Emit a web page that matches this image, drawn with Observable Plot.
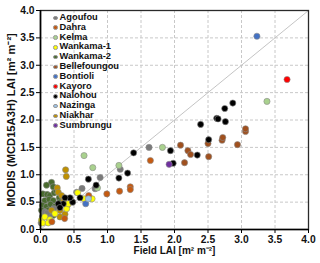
<!DOCTYPE html>
<html><head><meta charset="utf-8">
<script src="https://cdn.jsdelivr.net/npm/d3@7"></script>
<script src="https://cdn.jsdelivr.net/npm/@observablehq/plot@0.6"></script>
<style>
body{margin:0;background:#fff;font-family:Arial,"Liberation Sans",sans-serif;}
#wrap{position:relative;width:320px;height:263px;}
#legend{position:absolute;left:53px;top:13px;font-weight:bold;font-size:9.3px;color:#111;line-height:9.8px;}
#legend .row{display:flex;align-items:center;height:9.8px;white-space:nowrap;}
#legend .sw{width:4.6px;height:4.6px;border-radius:50%;margin-right:2px;box-sizing:border-box;border:0.5px solid #999;}
</style></head>
<body><div id="wrap"></div>
<script>
const sites = ["Agoufou","Dahra","Kelma","Wankama-1","Wankama-2","Bellefoungou","Bontioli","Kayoro","Nalohou","Nazinga","Niakhar","Sumbrungu"];
const colors = ["#7a7a7a","#c55a11","#a9d18e","#ffff00","#4a6b2e","#a0501e","#4472c4","#ff0000","#000000","#9dc3e6","#bf9000","#7030a0"];
const ticks = [0,0.5,1,1.5,2,2.5,3,3.5,4];
const oneToOne = [0,4];

const agoufou = [[0.89,0.95],[0.62,0.75],[1.62,1.50],[1.19,1.10],[0.54,0.68],[0.065,0.32],[0.14,0.23],[0.01,0.12],[0.815,0.745],[0.10,0.30],[0.20,0.38]];
const dahra = [[0.99,0.65],[1.18,0.70],[1.34,0.78],[1.34,0.73],[0.72,0.62],[0.17,0.14],[0.36,0.20],[1.64,1.26]];
const kelma = [[0.65,1.35],[0.78,1.13],[1.17,1.17],[0.85,0.76],[1.82,1.50],[3.38,2.34]];
const wankama1 = [[0.015,0.17],[0.065,0.23],[0.14,0.18],[0.215,0.29],[0.39,0.38],[0.415,0.47],[0.555,0.67],[0.65,0.56],[0.77,0.56],[0.03,0.12],[0.115,0.12]];
const wankama2 = [[0.165,0.86],[0.09,0.81],[0.19,0.78],[0.035,0.65],[0.10,0.64],[0.14,0.62],[0.205,0.67],[0.24,0.70],[0.065,0.53],[0.13,0.55],[0.19,0.53],[0.03,0.44],[0.09,0.42],[0.15,0.46],[0.215,0.42],[0.015,0.35],[0.05,0.28],[0.115,0.35],[0.18,0.36],[0.03,0.23],[0.10,0.26],[0.28,0.58],[0.29,0.50],[0.19,0.26]];
const bellefoungou = [[2.09,1.54],[2.20,1.44],[2.24,1.37],[2.15,1.22],[2.51,1.33],[2.50,1.57],[2.71,1.63],[2.72,1.68],[2.94,1.55],[3.06,1.79],[3.06,1.84]];
const bontioli = [[0.675,0.47],[3.23,3.53]];
const kayoro = [[3.68,2.74]];
const nalohou = [[1.39,1.40],[1.30,1.03],[1.17,0.94],[0.715,0.92],[0.83,0.81],[0.59,0.58],[0.48,0.50],[0.44,0.58],[0.34,0.47],[0.265,0.47],[0.365,0.58],[0.29,0.40],[1.94,1.44],[1.98,1.21],[2.34,1.36],[2.51,1.64],[2.39,1.92],[2.76,1.97],[2.63,2.03],[2.65,2.02],[2.75,2.21],[2.87,2.31]];
const nazinga = [[0.715,0.56]];
const niakhar = [[0.375,1.09],[0.385,0.97],[0.25,0.76],[0.265,0.68],[0.315,0.62],[0.35,0.53],[0.29,0.35],[0.365,0.28],[0.29,0.23],[0.45,0.56],[0.40,0.44],[0.165,0.35]];
const sumbrungu = [[1.92,1.19]];

const series = [agoufou,dahra,kelma,wankama1,wankama2,bellefoungou,bontioli,kayoro,nalohou,nazinga,niakhar,sumbrungu];
const drawOrder = [4,0,10,3,1,5,2,8,6,9,7,11];
const points = [];
for (const i of drawOrder) for (const [x,y] of series[i]) points.push({site:sites[i],x,y});

const chart = Plot.plot({
  width:320, height:263,
  marginLeft:40, marginRight:12, marginTop:10, marginBottom:34,
  x:{domain:[0,4]}, y:{domain:[0,4]},
  color:{domain:sites, range:colors},
  style:{fontFamily:"Arial, 'Liberation Sans', sans-serif", fontWeight:"bold", fontSize:"10.3px", color:"#111", background:"#fff"},
  marks:[
    Plot.gridX(ticks.slice(1,-1), {stroke:"#c8c8c8", strokeOpacity:1, strokeDasharray:"3,2"}),
    Plot.gridY(ticks.slice(1,-1), {stroke:"#c8c8c8", strokeOpacity:1, strokeDasharray:"3,2"}),
    Plot.line(oneToOne.map(v=>({x:v,y:v})), {x:"x", y:"y", stroke:"#bdbdbd", strokeWidth:0.9}),
    Plot.dot(points, {x:"x", y:"y", fill:"site", stroke:"#8a8a8a", strokeWidth:0.6, r:3.1}),
    Plot.frame({stroke:"#2a2a2a", strokeWidth:1.3}),
    Plot.ruleX([0], {stroke:"#000", strokeWidth:1.6}),
    Plot.ruleY([0], {stroke:"#000", strokeWidth:1.6}),
    Plot.axisX(ticks, {tickFormat:d3.format(".1f"), tickSize:4, tickPadding:2, label:null, stroke:"#000"}),
    Plot.axisY(ticks, {tickFormat:d3.format(".1f"), tickSize:4, tickPadding:2, label:null, stroke:"#000"}),
    Plot.text(["Field LAI [m\u00b2 m\u207b\u00b2]"], {text:d=>d, frameAnchor:"bottom", lineAnchor:"middle", textAnchor:"middle", dy:21, fontSize:10, fontWeight:"bold", fill:"#111"}),
    Plot.text(["MODIS (MCD15A3H) LAI [m\u00b2 m\u207b\u00b2]"], {text:d=>d, frameAnchor:"left", textAnchor:"middle", lineAnchor:"middle", dx:-29, rotate:-90, fontSize:11.2, fontWeight:"bold", fill:"#111"})
  ]
});
const wrap = document.getElementById("wrap");
wrap.appendChild(chart);
const leg = document.createElement("div");
leg.id = "legend";
sites.forEach((s,i)=>{
  const row = document.createElement("div"); row.className="row";
  const sw = document.createElement("span"); sw.className="sw"; sw.style.background = colors[i];
  const t = document.createElement("span"); t.textContent = s;
  row.appendChild(sw); row.appendChild(t); leg.appendChild(row);
});
wrap.appendChild(leg);
</script></body></html>
